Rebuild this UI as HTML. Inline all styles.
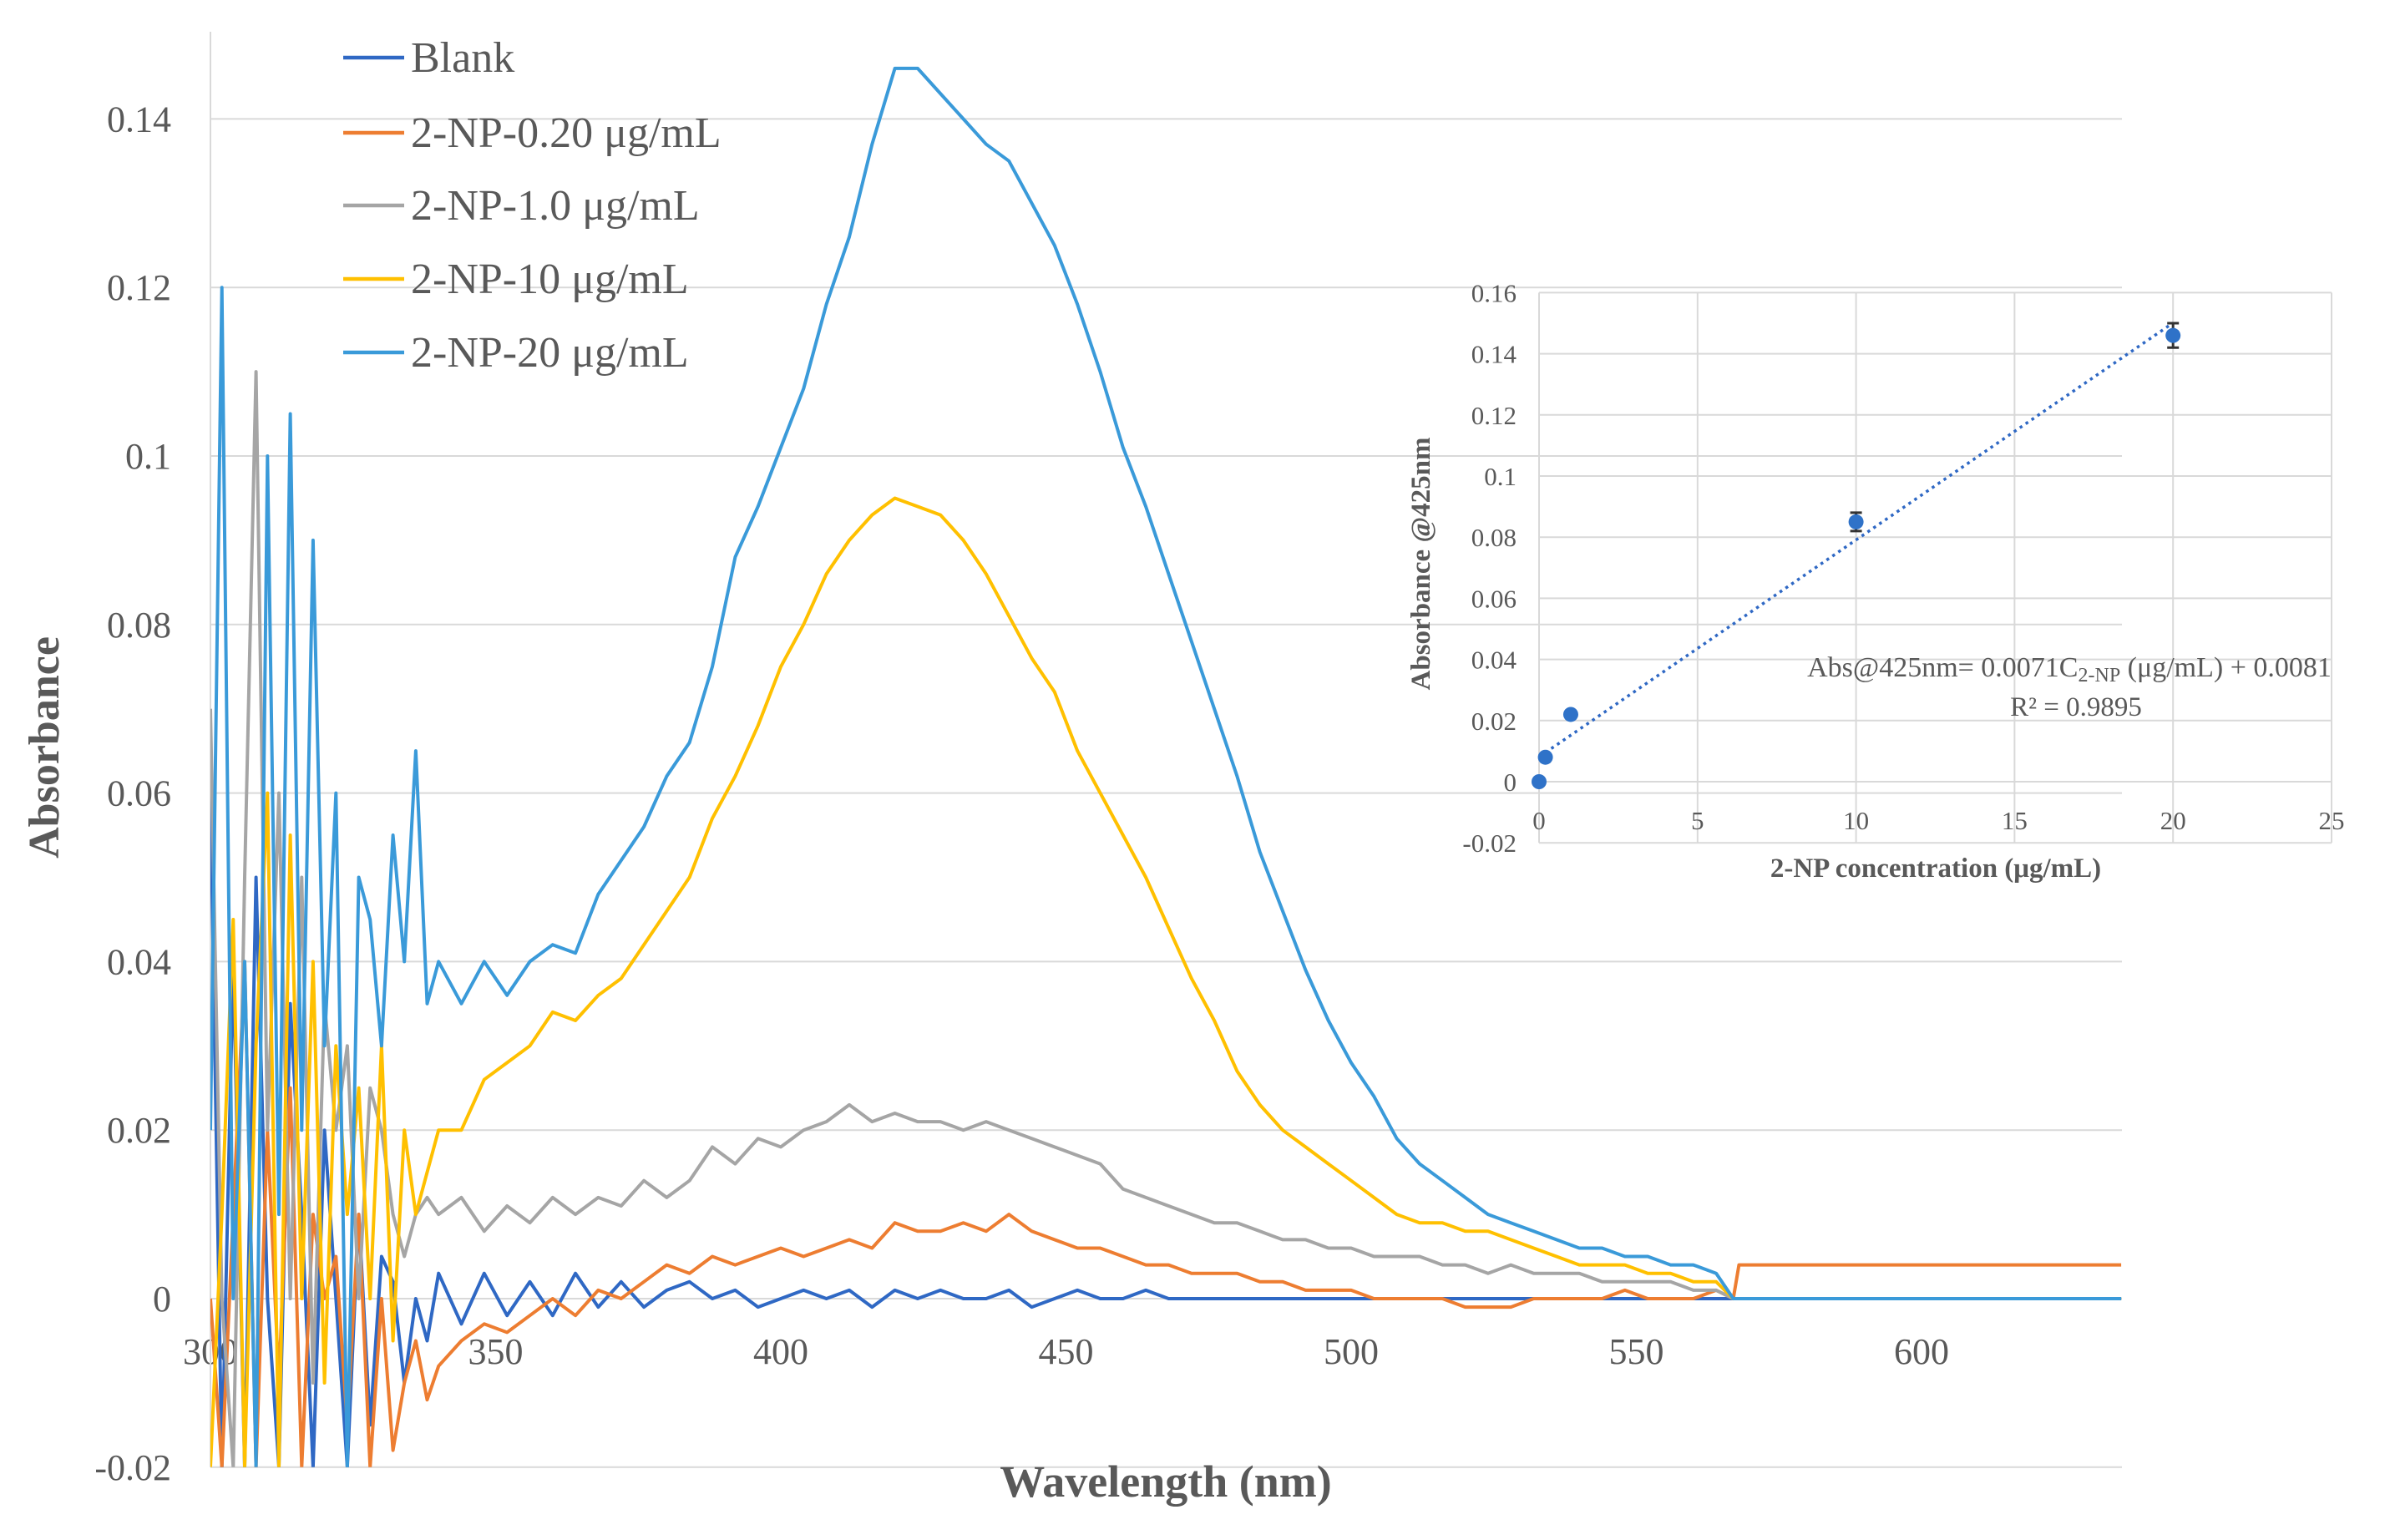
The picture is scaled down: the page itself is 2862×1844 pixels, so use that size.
<!DOCTYPE html>
<html><head><meta charset="utf-8"><style>
html,body{margin:0;padding:0;background:#fff;}
svg{display:block;font-family:"Liberation Serif",serif;}
</style></head><body>
<svg id="chart" width="2862" height="1844" viewBox="0 0 2862 1844" xmlns="http://www.w3.org/2000/svg">
<g id="main"></g>
<g id="inset"></g>
</svg>
<script>
const wlA=[300,302,304,306,308,310,312,314,316,318,320,322,324,326,328,330,332,334,336,338,340];
const wlB=[344,348,352,356,360,364,368,372,376,380,384,388,392,396,400,404,408,412,416,420,424,428,432,436,440,444,448,452,456,460,464,468,472,476,480,484,488,492,496,500,504,508,512,516,520,524,528,532,536,540,544,548,552,556,560,564];
const wlC=[567,568,635];
const seriesNames=["Blank","2-NP-0.20 μg/mL","2-NP-1.0 μg/mL","2-NP-10 μg/mL","2-NP-20 μg/mL"];
const blankA=[0.06,-0.02,0.04,-0.02,0.05,0.0,-0.02,0.035,0.01,-0.02,0.02,0.0,-0.02,0.01,-0.015,0.005,0.002,-0.01,0.0,-0.005,0.003];
const blankB=[-0.003,0.003,-0.002,0.002,-0.002,0.003,-0.001,0.002,-0.001,0.001,0.002,0.0,0.001,-0.001,0.0,0.001,0.0,0.001,-0.001,0.001,0.0,0.001,0.0,0.0,0.001,-0.001,0.0,0.001,0.0,0.0,0.001,0.0,0.0,0.0,0.0,0.0,0.0,0.0,0.0,0.0,0.0,0.0,0.0,0.0,0.0,0.0,0.0,0.0,0.0,0.0,0.0,0.0,0.0,0.0,0.0,0.0];
const blankC=[0,0,0];
const np02A=[0.0,-0.02,0.01,0.04,-0.02,0.02,-0.01,0.025,-0.02,0.01,0.0,0.005,-0.015,0.01,-0.02,0.0,-0.018,-0.01,-0.005,-0.012,-0.008];
const np02B=[-0.005,-0.003,-0.004,-0.002,0.0,-0.002,0.001,0.0,0.002,0.004,0.003,0.005,0.004,0.005,0.006,0.005,0.006,0.007,0.006,0.009,0.008,0.008,0.009,0.008,0.01,0.008,0.007,0.006,0.006,0.005,0.004,0.004,0.003,0.003,0.003,0.002,0.002,0.001,0.001,0.001,0.0,0.0,0.0,0.0,-0.001,-0.001,-0.001,0.0,0.0,0.0,0.0,0.001,0.0,0.0,0.0,0.001];
const np02C=[0,0.004,0.004];
const np1A=[0.07,0.0,-0.02,0.05,0.11,0.02,0.06,0.0,0.05,-0.01,0.035,0.02,0.03,0.0,0.025,0.02,0.01,0.005,0.01,0.012,0.01];
const np1B=[0.012,0.008,0.011,0.009,0.012,0.010,0.012,0.011,0.014,0.012,0.014,0.018,0.016,0.019,0.018,0.020,0.021,0.023,0.021,0.022,0.021,0.021,0.02,0.021,0.02,0.019,0.018,0.017,0.016,0.013,0.012,0.011,0.01,0.009,0.009,0.008,0.007,0.007,0.006,0.006,0.005,0.005,0.005,0.004,0.004,0.003,0.004,0.003,0.003,0.003,0.002,0.002,0.002,0.002,0.001,0.001];
const np1C=[0,0,0];
const np10A=[-0.02,0.01,0.045,-0.02,0.03,0.06,-0.02,0.055,0.0,0.04,-0.01,0.03,0.01,0.025,0.0,0.03,-0.005,0.02,0.01,0.015,0.02];
const np10B=[0.02,0.026,0.028,0.03,0.034,0.033,0.036,0.038,0.042,0.046,0.05,0.057,0.062,0.068,0.075,0.08,0.086,0.09,0.093,0.095,0.094,0.093,0.09,0.086,0.081,0.076,0.072,0.065,0.06,0.055,0.05,0.044,0.038,0.033,0.027,0.023,0.02,0.018,0.016,0.014,0.012,0.01,0.009,0.009,0.008,0.008,0.007,0.006,0.005,0.004,0.004,0.004,0.003,0.003,0.002,0.002];
const np10C=[0,0,0];
const np20A=[0.02,0.12,0.0,0.04,-0.02,0.10,0.01,0.105,0.02,0.09,0.03,0.06,-0.02,0.05,0.045,0.03,0.055,0.04,0.065,0.035,0.04];
const np20B=[0.035,0.04,0.036,0.04,0.042,0.041,0.048,0.052,0.056,0.062,0.066,0.075,0.088,0.094,0.101,0.108,0.118,0.126,0.137,0.146,0.146,0.143,0.14,0.137,0.135,0.13,0.125,0.118,0.11,0.101,0.094,0.086,0.078,0.07,0.062,0.053,0.046,0.039,0.033,0.028,0.024,0.019,0.016,0.014,0.012,0.010,0.009,0.008,0.007,0.006,0.006,0.005,0.005,0.004,0.004,0.003];
const np20C=[0,0,0];
const yTicks=[-0.02,0,0.02,0.04,0.06,0.08,0.1,0.12,0.14];
const yTickLabels=["-0.02","0","0.02","0.04","0.06","0.08","0.1","0.12","0.14"];
const xTicks=[300,350,400,450,500,550,600];
const concs=[0,0.2,1,10,20];
const absVals=[0,0.008,0.022,0.085,0.146];
const absErr=[0,0,0,0.003,0.004];
const insetYTicks=[-0.02,0,0.02,0.04,0.06,0.08,0.1,0.12,0.14,0.16];
const insetYLabels=["-0.02","0","0.02","0.04","0.06","0.08","0.1","0.12","0.14","0.16"];
const insetXTicks=[0,5,10,15,20,25];
const slope=0.0071, intercept=0.0081;

const NS="http://www.w3.org/2000/svg";
function mk(parent,tag,attrs,text){const e=document.createElementNS(NS,tag);for(const k in attrs)e.setAttribute(k,attrs[k]);if(text!==undefined)e.textContent=text;parent.appendChild(e);return e;}
const main=document.getElementById('main');
const X0=252,PX=6.83,Y0=1555,PY=201.8/0.02,XR=2541;
const xs=w=>X0+(w-300)*PX;
const ys=v=>Y0-v*PY;
yTicks.forEach((t,i)=>{
  const g=mk(main,'line',{x1:X0,x2:XR,y1:ys(t),y2:ys(t),stroke:'#d9d9d9','stroke-width':2});
  
  
  const l=mk(main,'text',{x:205,y:ys(t)+15,'text-anchor':'end','font-size':44,fill:'#595959'},yTickLabels[i]);
  
  
});
xTicks.forEach(t=>{
  const l=mk(main,'text',{x:xs(t),y:1633,'text-anchor':'middle','font-size':44,fill:'#595959'},String(t));
  
  
});
const ax=mk(main,'line',{x1:X0,x2:X0,y1:38,y2:ys(-0.02),stroke:'#d9d9d9','stroke-width':2});


const wl=wlA.concat(wlB,wlC);
const series=[blankA.concat(blankB,blankC),np02A.concat(np02B,np02C),np1A.concat(np1B,np1C),np10A.concat(np10B,np10C),np20A.concat(np20B,np20C)];
const colors=['#2f68c4','#ed7d31','#a5a5a5','#ffc000','#3a9ad9'];
const names=['series-blank','series-0-20','series-1-0','series-10','series-20'];
const cp=mk(main,'clipPath',{id:'pc'});mk(cp,'rect',{x:X0,y:20,width:XR-X0,height:ys(-0.02)-20});
series.forEach((s,i)=>{
  const n=Math.min(s.length,wl.length);
  let d='';
  for(let k=0;k<n;k++)d+=(k?'L':'M')+xs(wl[k]).toFixed(1)+' '+ys(s[k]).toFixed(1);
  const p=mk(main,'path',{d:d,fill:'none',stroke:colors[i],'stroke-width':4,'stroke-linejoin':'round','clip-path':'url(#pc)'});
  
  
});
const legY=[69,159,246,334,422];
seriesNames.forEach((n,i)=>{
  const ln=mk(main,'line',{x1:411,x2:484,y1:legY[i],y2:legY[i],stroke:colors[i],'stroke-width':4.5});
  
  
  const t=mk(main,'text',{x:492,y:legY[i]+17,'font-size':52,fill:'#595959'},n);
  
  
});
const yt=mk(main,'text',{x:0,y:0,transform:'translate(70,895) rotate(-90)','text-anchor':'middle','font-size':52,'font-weight':'bold',fill:'#595959'},'Absorbance');


const xt=mk(main,'text',{x:1396,y:1792,'text-anchor':'middle','font-size':54,'font-weight':'bold',fill:'#595959'},'Wavelength (nm)');



const ins=document.getElementById('inset');
const IX0=1843,IXR=2792,IY0=936,IPY=73.2/0.02,IPX=(IXR-IX0)/25;
const ix=c=>IX0+c*IPX, iy=v=>IY0-v*IPY;
insetYTicks.forEach((t,i)=>{
  const g=mk(ins,'line',{x1:IX0,x2:IXR,y1:iy(t),y2:iy(t),stroke:'#d9d9d9','stroke-width':2});
  
  
  const l=mk(ins,'text',{x:1816,y:iy(t)+11,'text-anchor':'end','font-size':31,fill:'#595959'},insetYLabels[i]);
  
  
});
insetXTicks.forEach(t=>{
  const g=mk(ins,'line',{x1:ix(t),x2:ix(t),y1:iy(0.16),y2:iy(-0.02),stroke:'#d9d9d9','stroke-width':2});
  
  
  const l=mk(ins,'text',{x:ix(t),y:993,'text-anchor':'middle','font-size':31,fill:'#595959'},String(t));
  
  
});
const tl=mk(ins,'line',{x1:ix(0.2),y1:iy(slope*0.2+intercept),x2:ix(20),y2:iy(slope*20+intercept),stroke:'#2f68c4','stroke-width':3.5,'stroke-dasharray':'3.5 5'});


concs.forEach((c,i)=>{
  if(absErr[i]>0){
    const e=mk(ins,'path',{d:`M${ix(c)-7} ${iy(absVals[i]+absErr[i])}H${ix(c)+7}M${ix(c)} ${iy(absVals[i]+absErr[i])}V${iy(absVals[i]-absErr[i])}M${ix(c)-7} ${iy(absVals[i]-absErr[i])}H${ix(c)+7}`,stroke:'#333','stroke-width':3,fill:'none'});
    
    
  }
  const p=mk(ins,'circle',{cx:ix(c),cy:iy(absVals[i]),r:9,fill:'#2f72c8'});
  
  
});
const eq=mk(ins,'text',{x:2478,y:810,'text-anchor':'middle','font-size':34,fill:'#595959'});


eq.innerHTML='Abs@425nm=  0.0071C<tspan font-size="24" dy="6">2-NP</tspan><tspan dy="-6"> (μg/mL)  + 0.0081</tspan>';
const r2=mk(ins,'text',{x:2486,y:857,'text-anchor':'middle','font-size':33,fill:'#595959'},'R² = 0.9895');


const iyt=mk(ins,'text',{x:0,y:0,transform:'translate(1712,675) rotate(-90)','text-anchor':'middle','font-size':33,'font-weight':'bold',fill:'#595959'},'Absorbance  @425nm');


const ixt=mk(ins,'text',{x:2318,y:1050,'text-anchor':'middle','font-size':33,'font-weight':'bold',fill:'#595959'},'2-NP concentration  (μg/mL)');


</script>
</body></html>
